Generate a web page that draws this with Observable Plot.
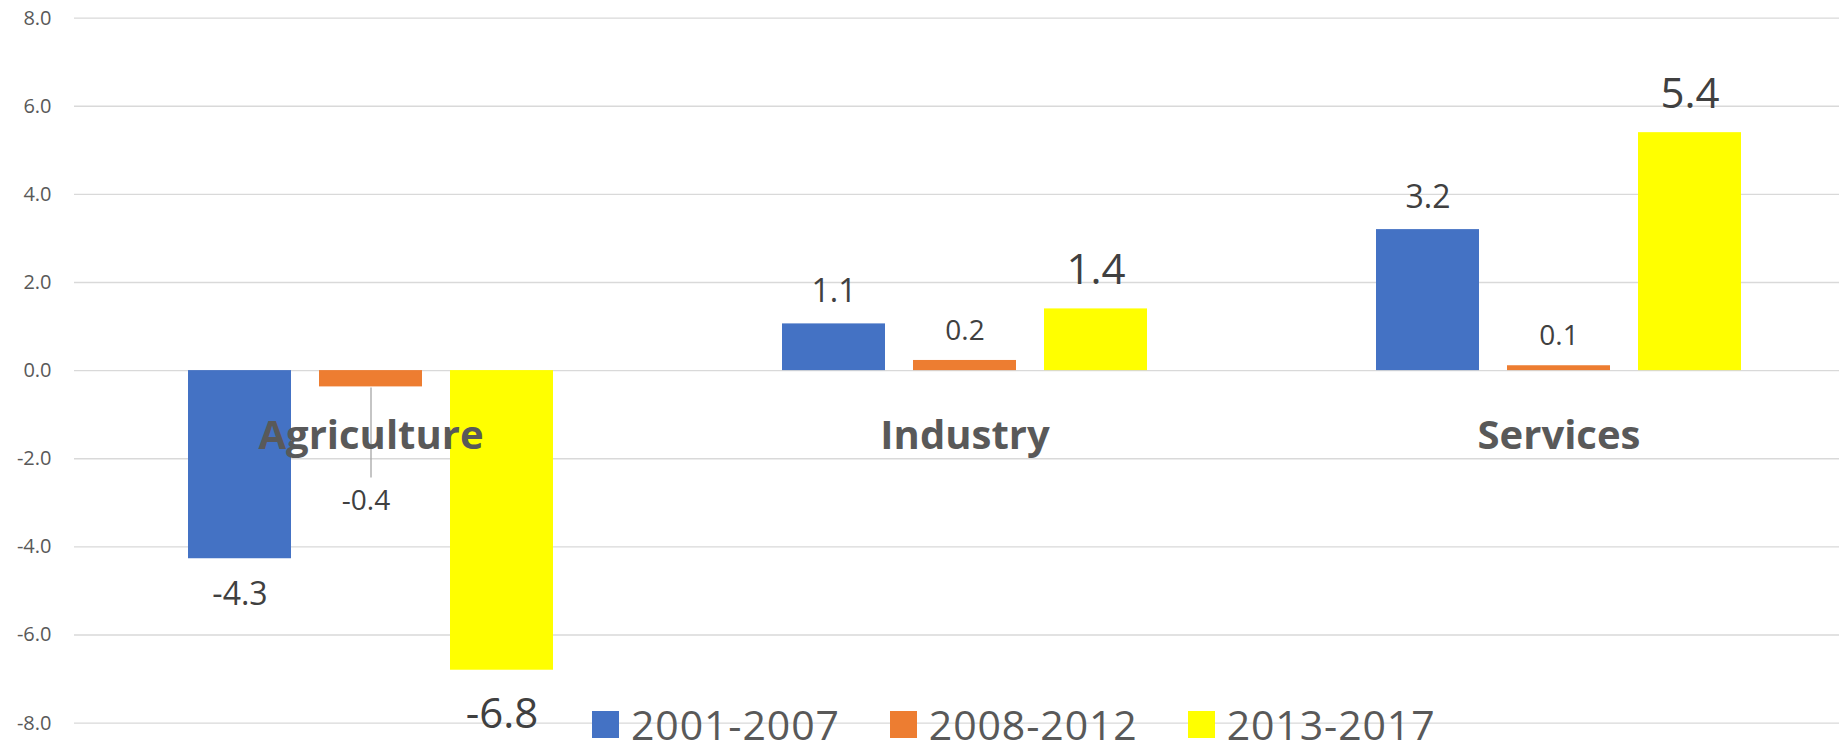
<!DOCTYPE html>
<html>
<head>
<meta charset="utf-8">
<script src="https://cdn.jsdelivr.net/npm/d3@7"></script>
<script src="https://cdn.jsdelivr.net/npm/@observablehq/plot@0.6"></script>
<style>
  html, body { margin: 0; padding: 0; background: #ffffff; overflow: hidden; }
  #chart { position: relative; width: 1839px; height: 749px; }
  #legend { position: absolute; left: 592px; top: 704px; color: #595959; }
  .lg-swatches { margin: 0 !important; min-height: 0 !important; font-family: "Open Sans", sans-serif !important; font-size: 41px !important; letter-spacing: 0.9px; line-height: 41px; flex-wrap: nowrap !important; white-space: nowrap; }
  .lg-swatch { margin-right: 50px !important; }
  .lg-swatch > svg { margin-right: 12px !important; }
</style>
</head>
<body>
<div id="chart"><div id="legend"></div></div>
<script>
// ---- data ----
const sectors = ["Agriculture", "Industry", "Services"];
const periods = ["2001-2007", "2008-2012", "2013-2017"];
const values2001_2007 = [-4.27, 1.06, 3.2];
const values2008_2012 = [-0.37, 0.23, 0.11];
const values2013_2017 = [-6.8, 1.4, 5.4];
const yTicks = [-8, -6, -4, -2, 0, 2, 4, 6, 8];

// ---- styles ----
const periodColors = ["#4472C4", "#ED7D31", "#FFFF00"];
const labelStyle = [
  {size: 32, up: 21.5, down: 24},
  {size: 28, up: 20.5, down: 24},
  {size: 42, up: 25, down: 28}
];

const seriesValues = [values2001_2007, values2008_2012, values2013_2017];
const table = [];
periods.forEach((p, i) => sectors.forEach((s, j) => table.push({sector: s, period: p, value: seriesValues[i][j]})));

// small negative labels are moved below the category label (with a leader line)
const moved = d => d.value < 0 && d.value > -1;
const fmt = v => v.toFixed(1);

const labelMarks = periods.flatMap((p, i) => {
  const st = labelStyle[i];
  return [
    Plot.text(table, {filter: d => d.period === p && d.value >= 0, fx: "sector", x: "period", y: "value",
      text: d => fmt(d.value), lineAnchor: "bottom", dy: -st.up, fontSize: st.size, fill: "#404040"}),
    Plot.text(table, {filter: d => d.period === p && d.value < 0 && !moved(d), fx: "sector", x: "period", y: "value",
      text: d => fmt(d.value), lineAnchor: "top", dy: st.down, fontSize: st.size, fill: "#404040"}),
    Plot.text(table, {filter: d => d.period === p && moved(d), fx: "sector", x: "period", y: "value",
      text: d => fmt(d.value), lineAnchor: "top", dy: 103, dx: -5, fontSize: st.size, fill: "#404040"})
  ];
});

const plot = Plot.plot({
  width: 1839,
  height: 749,
  marginLeft: 74,
  marginRight: -17,
  marginTop: 17.6,
  marginBottom: 26.4,
  style: {fontFamily: "'Open Sans', sans-serif", background: "#ffffff", overflow: "hidden"},
  fx: {domain: sectors, padding: 0, axis: null},
  x: {domain: periods, paddingInner: 0.2137, paddingOuter: 0.874, axis: null},
  y: {domain: [-8, 8]},
  color: {domain: periods, range: periodColors},
  marks: [
    Plot.gridY(yTicks, {stroke: "#d9d9d9", strokeOpacity: 1, strokeWidth: 1.3}),
    Plot.axisY(yTicks, {tickSize: 0, tickPadding: 23, tickFormat: fmt, fontSize: 20, color: "#595959", label: null}),
    Plot.barY(table, {fx: "sector", x: "period", y: "value", fill: "period"}),
    Plot.ruleX(table, {filter: moved, fx: "sector", x: "period", y1: "value", y2: "value",
      insetTop: 1, insetBottom: -91, stroke: "#a6a6a6", strokeWidth: 1.3}),
    Plot.text(table, {filter: d => d.period === periods[1], fx: "sector", x: "period", y: () => 0,
      text: "sector", lineAnchor: "bottom", dy: 78, fontSize: 40, fontWeight: "bold", fill: "#595959"}),
    ...labelMarks
  ]
});

document.getElementById("chart").insertBefore(plot, document.getElementById("legend"));
const legend = plot.legend("color", {className: "lg", swatchSize: 27});
document.getElementById("legend").appendChild(legend);
</script>
</body>
</html>
